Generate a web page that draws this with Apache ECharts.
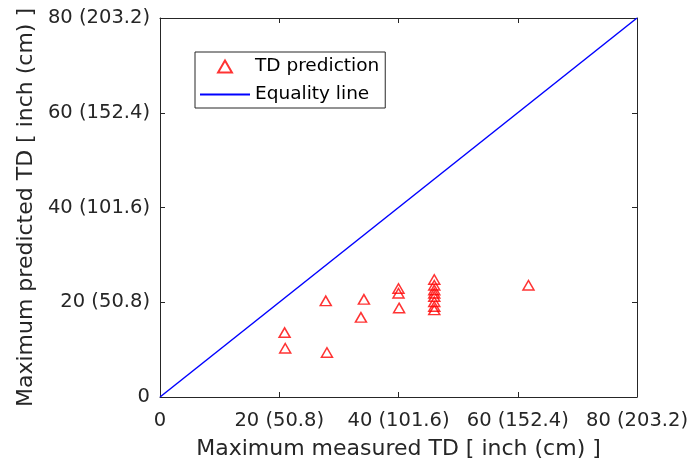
<!DOCTYPE html>
<html>
<head>
<meta charset="utf-8">
<script src="https://cdn.jsdelivr.net/npm/echarts@6/dist/echarts.min.js"></script>
<style>
  html, body { margin: 0; padding: 0; background: #fff; }
  #chart-container { width: 693px; height: 465px; }
</style>
</head>
<body>
<div id="chart-container"></div>
<script>
// measured vs predicted TD (inch)
var measured = [20.9, 21.0, 27.8, 28.0, 34.2, 33.7, 40.0, 40.0, 40.1,
  46.0, 46.0, 46.0, 46.0, 46.0, 46.0, 46.0, 46.0, 61.8];
var predicted = [13.6, 10.3, 20.3, 9.4, 20.6, 16.8, 22.9, 21.9, 18.8,
  24.8, 23.6, 22.6, 21.9, 21.2, 20.1, 19.1, 18.4, 23.6];
var equality = [[0, 0], [80, 80]];
var tickLabels = ["0", "20 (50.8)", "40 (101.6)", "60 (152.4)", "80 (203.2)"];

var dom = document.getElementById("chart-container");
var myChart = echarts.init(dom, null, { renderer: "canvas" });

var textColor = "#262626";
var font = "DejaVu Sans";
var triPath = "path://M5,0 L10,8.66 L0,8.66 Z";

function tickFmt(v) {
  return tickLabels[Math.round(v / 20)];
}

var baseAxis = {
  type: "value",
  min: 0,
  max: 80,
  interval: 20,
  splitLine: { show: false },
  axisLine: { show: true, onZero: false, lineStyle: { color: textColor, width: 1 } },
  axisTick: { show: true, inside: true, length: 5, lineStyle: { color: textColor } },
};

var option = {
  animation: false,
  backgroundColor: "#fff",
  grid: { left: 160, right: 56, top: 18, bottom: 68 },
  legend: {
    left: 195,
    top: 52,
    orient: "vertical",
    backgroundColor: "#fff",
    borderColor: textColor,
    borderWidth: 1,
    padding: [5, 6, 4, 4],
    itemWidth: 50,
    itemHeight: 12,
    itemGap: 9,
    textStyle: { fontFamily: font, fontSize: 18.5, color: "#000" },
    data: [
      { name: "TD prediction", icon: triPath },
      { name: "Equality line", itemStyle: { opacity: 0 } },
    ],
  },
  xAxis: [
    Object.assign({}, baseAxis, {
      position: "bottom",
      name: "Maximum measured TD [ inch (cm) ]",
      nameLocation: "middle",
      nameGap: 41,
      nameTextStyle: { fontFamily: font, fontSize: 22, color: textColor },
      axisLabel: { formatter: tickFmt, fontFamily: font, fontSize: 19.5, color: textColor, margin: 14 },
    }),
    Object.assign({}, baseAxis, {
      position: "top",
      axisLabel: { show: false },
    }),
  ],
  yAxis: [
    Object.assign({}, baseAxis, {
      position: "left",
      name: "Maximum predicted TD [ inch (cm) ]",
      nameLocation: "middle",
      nameGap: 122,
      nameTextStyle: { fontFamily: font, fontSize: 22, color: textColor },
      axisLabel: { formatter: tickFmt, fontFamily: font, fontSize: 19.5, color: textColor, margin: 10 },
    }),
    Object.assign({}, baseAxis, {
      position: "right",
      axisLabel: { show: false },
    }),
  ],
  series: [
    {
      name: "TD prediction",
      type: "scatter",
      symbol: triPath,
      symbolSize: [11, 9.5],
      itemStyle: { color: "rgba(255,0,0,0)", borderColor: "#ff0000", borderWidth: 1.5 },
      data: measured.map(function (m, i) { return [m, predicted[i]]; }),
      z: 3,
    },
    {
      name: "Equality line",
      type: "line",
      symbol: "none",
      lineStyle: { color: "#0000ff", width: 1.5 },
      itemStyle: { color: "#0000ff" },
      data: equality,
      z: 2,
    },
  ],
};

myChart.setOption(option);
window.addEventListener("resize", myChart.resize);
</script>
</body>
</html>
